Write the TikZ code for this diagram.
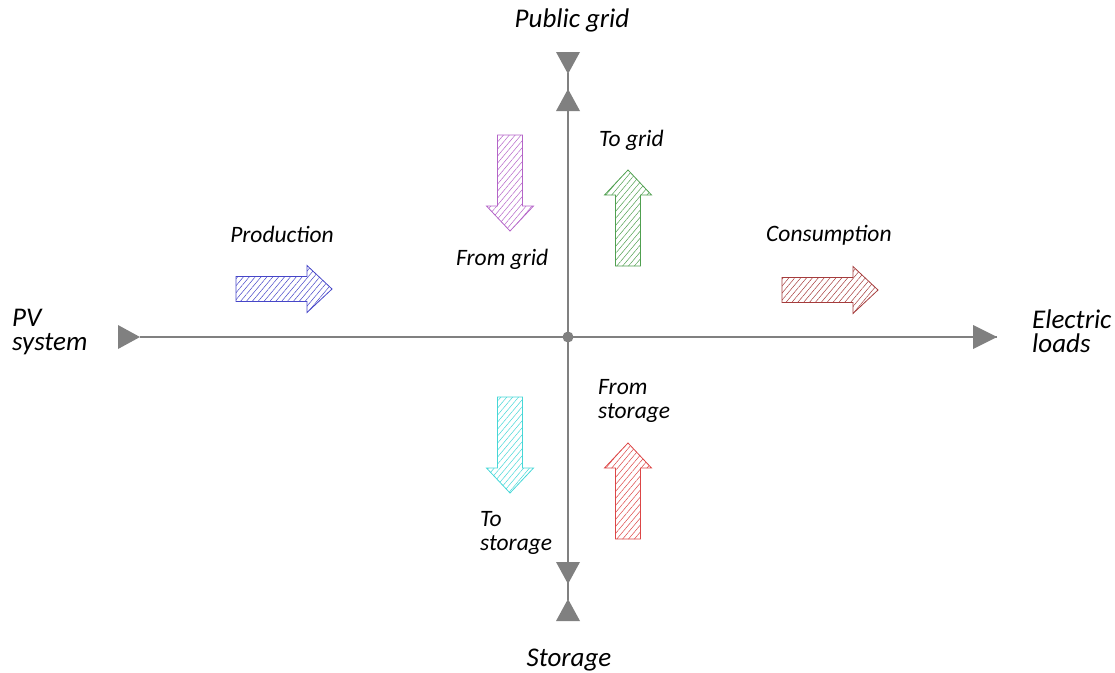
\documentclass[tikz,border=0pt]{standalone}
\usepackage{fontspec}
\setmainfont{Carlito}
\usetikzlibrary{patterns.meta}

\definecolor{axisgray}{RGB}{128,128,128}
\definecolor{prodblue}{RGB}{70,70,200}
\definecolor{conbrown}{RGB}{165,60,60}
\definecolor{gridpurple}{RGB}{180,100,200}
\definecolor{gridgreen}{RGB}{80,160,80}
\definecolor{storcyan}{RGB}{70,215,215}
\definecolor{storred}{RGB}{220,70,70}

\tikzset{
  axis/.style={draw=axisgray, line width=1.8pt},
  tip/.style={fill=axisgray},
  lbl/.style={font=\fontsize{23.5}{23.5}\selectfont\itshape, inner sep=0pt, align=left},
  endlbl/.style={lbl, font=\fontsize{27}{24}\selectfont\itshape},
  flow/.style={draw=#1, line width=0.8pt,
    pattern={Lines[angle=50, distance=4.5pt, line width=0.5pt]}, pattern color=#1},
  % hatched block arrow: starts at the pic origin, points along +x
  blockarrow/.pic={
    \path[pic actions] (0,-12.5) -- (71,-12.5) -- (71,-23.5) -- (96,0)
      -- (71,23.5) -- (71,12.5) -- (0,12.5) -- cycle;
  }
}

\begin{document}
\begin{tikzpicture}[x=1pt, y=-1pt]
\useasboundingbox (0,0) rectangle (1115,672);

% axis end points and centre
\coordinate (o) at (568,337);
\coordinate (west) at (140,337);
\coordinate (east) at (997,337);
\coordinate (north) at (568,73);
\coordinate (south) at (568,600);

\draw[axis] (west) -- (east);
\draw[axis] (north) -- (south);
\fill[axisgray] (o) circle (5.5);

% triangle markers on the axes
\fill[tip] (118,325) -- (140,337) -- (118,349) -- cycle;
\fill[tip] (973,325) -- (997,337) -- (973,349) -- cycle;
\fill[tip] (556,52) -- (580,52) -- (568,74) -- cycle;
\fill[tip] (556,111) -- (580,111) -- (568,89) -- cycle;
\fill[tip] (556,562) -- (580,562) -- (568,584) -- cycle;
\fill[tip] (556,621) -- (580,621) -- (568,599) -- cycle;

% endpoint labels (base anchor = last line)
\node[endlbl, anchor=base] (grid) at (572,27) {Public grid};
\node[endlbl, anchor=base] (storage) at (569,666) {Storage};
\node[endlbl, anchor=base west] (pv) at (12,350) {PV\\system};
\node[endlbl, anchor=base west] (loads) at (1032,352) {Electric\\loads};

% energy flows
\pic[flow=prodblue] at (236,289) {blockarrow};
\pic[flow=conbrown] at (782,290) {blockarrow};
\pic[flow=gridpurple, rotate=-90] at (510,135) {blockarrow};
\pic[flow=gridgreen, rotate=90] at (628,266) {blockarrow};
\pic[flow=storcyan, rotate=-90] at (510,397) {blockarrow};
\pic[flow=storred, rotate=90] at (628,539) {blockarrow};

% flow labels
\node[lbl, anchor=base] (production) at (282,242) {Production};
\node[lbl, anchor=base west] (consumption) at (766,241) {Consumption};
\node[lbl, anchor=base west] (fromgrid) at (456,265) {From grid};
\node[lbl, anchor=base west] (togrid) at (599,146) {To grid};
\node[lbl, anchor=base west] (fromstorage) at (598,418) {From\\storage};
\node[lbl, anchor=base west] (tostorage) at (480,550) {To\\storage};
\end{tikzpicture}
\end{document}
